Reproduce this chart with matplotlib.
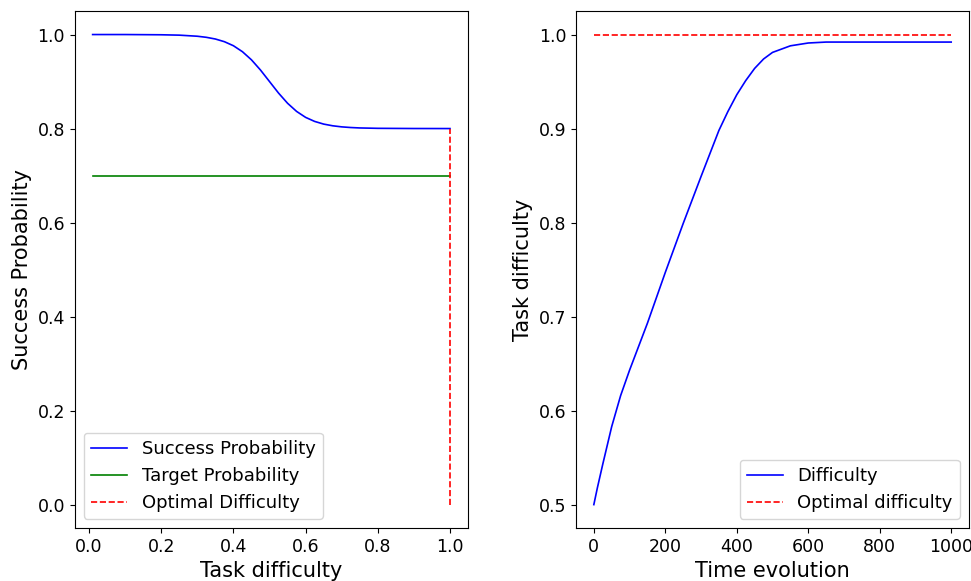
import matplotlib
matplotlib.use("Agg")
from matplotlib import pyplot as plt

# left panel: success probability vs task difficulty
difficulty = [0.01, 0.1, 0.2, 0.25, 0.3, 0.325, 0.35, 0.375, 0.4, 0.425, 0.45,
              0.475, 0.5, 0.525, 0.55, 0.575, 0.6, 0.625, 0.65, 0.675, 0.7,
              0.725, 0.75, 0.8, 0.9, 1.0]
success_prob = [1.0, 1.0, 0.9995, 0.9987, 0.9964, 0.9941, 0.9905, 0.9848, 0.9762,
                0.9635, 0.9462, 0.9245, 0.9, 0.8755, 0.8538, 0.8365, 0.8238,
                0.8152, 0.8095, 0.8059, 0.8036, 0.8022, 0.8013, 0.8005, 0.8001, 0.8]
target_prob = 0.7
optimal_difficulty = 1.0
optimal_success = 0.8

# right panel: difficulty over time
time_steps = [0, 10, 25, 50, 75, 100, 125, 150, 175, 200, 250, 300, 350, 375,
              400, 425, 450, 475, 500, 550, 600, 650, 700, 1000]
task_difficulty = [0.5, 0.518, 0.543, 0.583, 0.616, 0.643, 0.668, 0.693, 0.720,
                   0.747, 0.799, 0.849, 0.898, 0.918, 0.936, 0.951, 0.964, 0.974,
                   0.981, 0.988, 0.991, 0.992, 0.992, 0.992]
optimal_level = 1.0

fig, (ax1, ax2) = plt.subplots(1, 2, figsize=(9.71, 5.81), dpi=100)
fig.subplots_adjust(left=0.077, right=0.998, top=0.981, bottom=0.091, wspace=0.275)

ax1.plot(difficulty, success_prob, color='blue', lw=1.2, label='Success Probability')
ax1.plot([difficulty[0], difficulty[-1]], [target_prob, target_prob], color='green',
         lw=1.2, label='Target Probability')
ax1.plot([optimal_difficulty, optimal_difficulty], [0, optimal_success], 'r--',
         lw=1.2, label='Optimal Difficulty')
ax1.set_xlabel('Task difficulty', fontsize=15)
ax1.set_ylabel('Success Probability', fontsize=15)
ax1.tick_params(labelsize=12.5)
ax1.legend(loc='lower left', fontsize=13)

ax2.plot(time_steps, task_difficulty, color='blue', lw=1.2, label='Difficulty')
ax2.plot([time_steps[0], time_steps[-1]], [optimal_level, optimal_level], 'r--',
         lw=1.2, label='Optimal difficulty')
ax2.set_xlabel('Time evolution', fontsize=15)
ax2.set_ylabel('Task difficulty', fontsize=15)
ax2.tick_params(labelsize=12.5)
ax2.legend(loc='lower right', fontsize=13)

plt.savefig('out.png')
